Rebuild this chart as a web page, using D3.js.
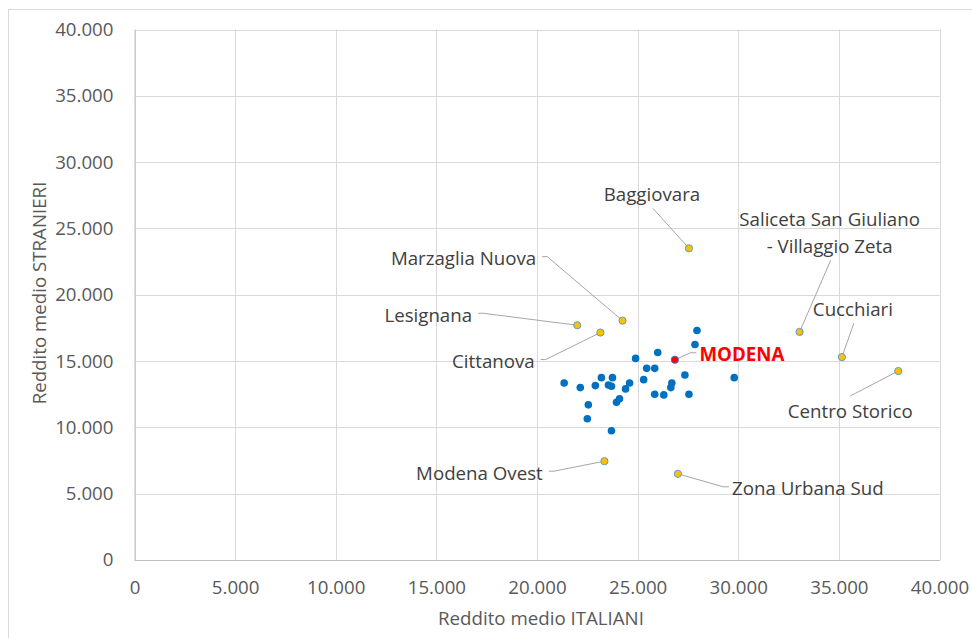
<!DOCTYPE html>
<html>
<head>
<meta charset="utf-8">
<script src="https://cdn.jsdelivr.net/npm/d3@7"></script>
<style>
  body { margin: 0; background: #fff; }
  text { font-family: "Open Sans", sans-serif; }
</style>
</head>
<body>
<svg width="972" height="638"></svg>
<script>
// quartieri senza etichetta (punti blu)
var italiani  = [27950, 27850, 26000, 24900, 25450, 25850, 27350, 29800, 21350, 23200,
                 23750, 22150, 22900, 23550, 23700, 24600, 25300, 24400, 26700, 26650,
                 25850, 26300, 27550, 24100, 23950, 22550, 22500, 23700];
var stranieri = [17300, 16250, 15650, 15200, 14450, 14450, 13950, 13750, 13350, 13750,
                 13750, 13000, 13150, 13200, 13100, 13350, 13600, 12900, 13350, 13000,
                 12500, 12450, 12500, 12150, 11900, 11700, 10650, 9750];

// quartieri con etichetta (punti gialli)
var zone = ["Baggiovara", "Saliceta San Giuliano - Villaggio Zeta", "Cucchiari", "Centro Storico",
            "Marzaglia Nuova", "Lesignana", "Cittanova", "Modena Ovest", "Zona Urbana Sud"];
var zoneItaliani  = [27550, 33050, 35150, 37950, 24250, 22000, 23150, 23350, 27000];
var zoneStranieri = [23500, 17200, 15300, 14250, 18050, 17700, 17150, 7450, 6500];

// media comunale
var comune = "MODENA";
var comuneItaliani = 26850;
var comuneStranieri = 15100;

var ticks = [0, 5000, 10000, 15000, 20000, 25000, 30000, 35000, 40000];

// label placement (pixel offsets from the point, and where the leader line attaches)
var labelLayout = {
  "Baggiovara":      { dx: -37,  dy: -54, side: "bottom" },
  "Saliceta San Giuliano - Villaggio Zeta": { dx: 30, dy: -99, side: "bottom" },
  "Cucchiari":       { dx: 11,   dy: -48, side: "bottom" },
  "Centro Storico":  { dx: -48,  dy: 40,  side: "top" },
  "Marzaglia Nuova": { dx: -159, dy: -62, side: "right" },
  "Lesignana":       { dx: -149, dy: -10, side: "right" },
  "Cittanova":       { dx: -107, dy: 29,  side: "right" },
  "Modena Ovest":    { dx: -125, dy: 12,  side: "right" },
  "Zona Urbana Sud": { dx: 130,  dy: 15,  side: "left" },
  "MODENA":          { dx: 67,   dy: -5,  side: "left" }
};

var svg = d3.select("svg");
var fs = 18.7;

// chart border
svg.append("rect")
  .attr("x", 8.5).attr("y", 9.5)
  .attr("width", 980).attr("height", 640)
  .attr("fill", "#fff")
  .attr("stroke", "#d9d9d9");

var x = d3.scaleLinear().domain([0, 40000]).range([134.5, 939.5]);
var y = d3.scaleLinear().domain([0, 40000]).range([560, 29.5]);

var it = d3.formatLocale({ decimal: ",", thousands: ".", grouping: [3], currency: ["", ""] });
var fmt = it.format(",d");

// gridlines
svg.append("g").selectAll("line.v")
  .data(ticks)
  .join("line")
  .attr("x1", d => Math.round(x(d)) + 0.5).attr("x2", d => Math.round(x(d)) + 0.5)
  .attr("y1", y(40000)).attr("y2", y(0))
  .attr("stroke", "#d9d9d9");
svg.append("g").selectAll("line.h")
  .data(ticks)
  .join("line")
  .attr("x1", x(0)).attr("x2", x(40000))
  .attr("y1", d => Math.round(y(d)) + 0.5).attr("y2", d => Math.round(y(d)) + 0.5)
  .attr("stroke", "#d9d9d9");

// axes (labels only)
var xAxis = svg.append("g")
  .attr("transform", "translate(0," + y(0) + ")")
  .call(d3.axisBottom(x).tickValues(ticks).tickFormat(fmt).tickSize(0).tickPadding(21));
var yAxis = svg.append("g")
  .attr("transform", "translate(" + x(0) + ",0)")
  .call(d3.axisLeft(y).tickValues(ticks).tickFormat(fmt).tickSize(0).tickPadding(21));
[xAxis, yAxis].forEach(function(a) {
  a.select(".domain").attr("stroke", "#bfbfbf");
  a.selectAll("text")
    .attr("font-family", "Open Sans, sans-serif")
    .attr("font-size", fs)
    .attr("fill", "#595959");
});

// axis titles
svg.append("text")
  .attr("x", 541).attr("y", 618).attr("dy", "0.35em")
  .attr("text-anchor", "middle")
  .attr("font-size", fs).attr("fill", "#595959")
  .text("Reddito medio ITALIANI");
svg.append("text")
  .attr("transform", "translate(39,293) rotate(-90)")
  .attr("dy", "0.35em")
  .attr("text-anchor", "middle")
  .attr("font-size", fs).attr("fill", "#595959")
  .text("Reddito medio STRANIERI");

// blue points
svg.append("g").selectAll("circle")
  .data(italiani)
  .join("circle")
  .attr("cx", (d, i) => x(d))
  .attr("cy", (d, i) => y(stranieri[i]))
  .attr("r", 3.8)
  .attr("fill", "#0070c0");

// labels + leader lines
var labels = svg.append("g");
var leaders = svg.append("g");

function addLabel(name, px, py, color, weight) {
  var L = labelLayout[name];
  var cx = px + L.dx, cy = py + L.dy;
  var lines = name.indexOf(" - ") > 0 ? [name.split(" - ")[0], "- " + name.split(" - ")[1]] : [name];
  var lh = 27;
  var t = labels.append("text")
    .attr("text-anchor", "middle")
    .attr("font-size", fs)
    .attr("font-weight", weight)
    .attr("fill", color);
  lines.forEach(function(s, k) {
    t.append("tspan")
      .attr("x", cx)
      .attr("y", cy - (lines.length - 1) * lh / 2 + k * lh)
      .attr("dy", "0.35em")
      .text(s);
  });
  var w = t.node().getBBox().width;
  var top = cy - (lines.length - 1) * lh / 2 - 9;
  var bottom = cy + (lines.length - 1) * lh / 2 + 9;
  var pts;
  if (L.side === "right") {
    var sx = cx + w / 2 + 6;
    pts = [[sx, cy - 2], [sx + 5, cy - 2], [px, py]];
  } else if (L.side === "left") {
    var sx2 = cx - w / 2 - 3;
    pts = [[sx2, cy - 2], [sx2 - 6, cy - 2], [px, py]];
  } else if (L.side === "bottom") {
    pts = [[cx + 1, bottom + 5], [px, py]];
  } else {
    pts = [[cx, top - 6], [px, py]];
  }
  leaders.append("path")
    .attr("d", d3.line()(pts))
    .attr("fill", "none")
    .attr("stroke", "#a6a6a6")
    .attr("stroke-width", 1);
}

zone.forEach(function(n, i) {
  addLabel(n, x(zoneItaliani[i]), y(zoneStranieri[i]), "#404040", "normal");
});
addLabel(comune, x(comuneItaliani), y(comuneStranieri), "#ff0000", "bold");

// yellow points
svg.append("g").selectAll("circle")
  .data(zoneItaliani)
  .join("circle")
  .attr("cx", d => x(d))
  .attr("cy", (d, i) => y(zoneStranieri[i]))
  .attr("r", 3.6)
  .attr("fill", "#ffc000")
  .attr("stroke", "#5b9bd5")
  .attr("stroke-width", 1);

// MODENA point
svg.append("circle")
  .attr("cx", x(comuneItaliani))
  .attr("cy", y(comuneStranieri))
  .attr("r", 3.6)
  .attr("fill", "#ff0000")
  .attr("stroke", "#2e75d6")
  .attr("stroke-width", 1);
</script>
</body>
</html>
